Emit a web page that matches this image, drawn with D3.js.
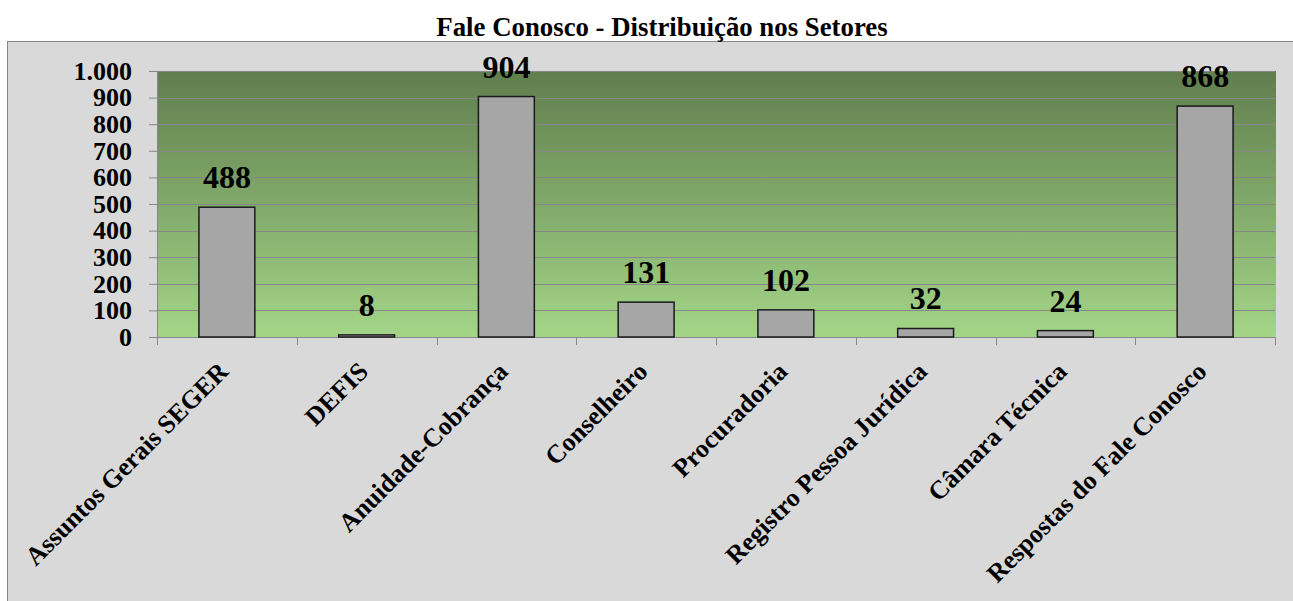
<html lang="pt">
<head>
  <meta charset="UTF-8"/>
  <title>Fale Conosco - Distribuição nos Setores</title>
  <script src="https://d3js.org/d3.v7.min.js"></script>
  <style>
    body { margin: 0; background: #fff; }
    svg { display: block; }
    text { font-family: 'Liberation Serif', 'Times New Roman', serif; font-weight: bold; fill: #000; }
  </style>
</head>
<body>
<svg width="1293" height="601"></svg>
<script>
  const setores = ['Assuntos Gerais SEGER', 'DEFIS', 'Anuidade-Cobrança', 'Conselheiro',
    'Procuradoria', 'Registro Pessoa Jurídica', 'Câmara Técnica', 'Respostas do Fale Conosco'];
  const valores = [488, 8, 904, 131, 102, 32, 24, 868];
  const yTicks = [0, 100, 200, 300, 400, 500, 600, 700, 800, 900, 1000];

  const svg = d3.select('svg');

  // plot area
  const plotLeft = 157, plotRight = 1275, plotTop = 71, plotBottom = 337;

  // outer chart area
  svg.append('rect')
    .attr('x', 7.5).attr('y', 41.5)
    .attr('width', 1300).attr('height', 600)
    .attr('fill', '#d9d9d9')
    .attr('stroke', '#878787')
    .attr('stroke-width', 1);

  svg.append('text')
    .attr('x', 662)
    .attr('y', 36)
    .attr('text-anchor', 'middle')
    .style('font-size', '26.8px')
    .text('Fale Conosco - Distribuição nos Setores');

  const defs = svg.append('defs');
  const grad = defs.append('linearGradient')
    .attr('id', 'bg').attr('x1', 0).attr('y1', 0).attr('x2', 0).attr('y2', 1);
  grad.append('stop').attr('offset', '0%').attr('stop-color', '#607e4e');
  grad.append('stop').attr('offset', '100%').attr('stop-color', '#a3d587');

  svg.append('rect')
    .attr('x', plotLeft).attr('y', plotTop)
    .attr('width', plotRight - plotLeft + 1).attr('height', plotBottom - plotTop)
    .attr('fill', 'url(#bg)');

  const x = d3.scaleBand()
    .domain(setores)
    .range([plotLeft, plotRight])
    .paddingInner(0.6)
    .paddingOuter(0.3);

  const y = d3.scaleLinear()
    .domain([0, 1000])
    .range([plotBottom, plotTop]);

  // grid lines
  svg.append('g')
    .selectAll('line')
    .data(yTicks.slice(1))
    .enter()
    .append('line')
    .attr('x1', plotLeft).attr('x2', plotRight)
    .attr('y1', (d) => Math.round(y(d)) + 0.5)
    .attr('y2', (d) => Math.round(y(d)) + 0.5)
    .attr('stroke', '#878787')
    .attr('stroke-width', 1);

  // y axis
  const yAxis = svg.append('g')
    .attr('transform', `translate(${plotLeft}, 0)`)
    .call(d3.axisLeft(y).tickValues(yTicks).tickSize(8).tickPadding(17)
      .tickFormat((d) => d3.format(',')(d).replace(/,/g, '.')));
  yAxis.select('.domain').attr('stroke', '#878787');
  yAxis.selectAll('.tick line').attr('stroke', '#878787');
  yAxis.selectAll('.tick text')
    .attr('fill', '#000')
    .style('font-size', '26px')
    .style('font-family', "'Liberation Serif', serif")
    .style('font-weight', 'bold');

  // x axis: ticks at category boundaries
  const step = x.step();
  const bounds = d3.range(setores.length + 1).map((i) => plotLeft + i * step);
  svg.append('line')
    .attr('x1', plotLeft).attr('x2', plotRight)
    .attr('y1', plotBottom + 0.5).attr('y2', plotBottom + 0.5)
    .attr('stroke', '#878787');
  svg.append('g')
    .selectAll('line')
    .data(bounds)
    .enter()
    .append('line')
    .attr('x1', (d) => Math.round(d) + 0.5)
    .attr('x2', (d) => Math.round(d) + 0.5)
    .attr('y1', plotBottom).attr('y2', plotBottom + 8)
    .attr('stroke', '#878787');

  const data = setores.map((s, i) => ({ setor: s, valor: valores[i] }));

  const bars = svg.selectAll('.barra')
    .data(data)
    .enter()
    .append('g')
    .attr('class', 'barra');

  bars.append('rect')
    .attr('x', (d) => x(d.setor))
    .attr('y', (d) => y(d.valor))
    .attr('width', x.bandwidth())
    .attr('height', (d) => plotBottom - y(d.valor))
    .attr('fill', '#a6a6a6')
    .attr('stroke', '#1a1a1a')
    .attr('stroke-width', 1.5);

  bars.append('text')
    .attr('x', (d) => x(d.setor) + x.bandwidth() / 2)
    .attr('y', (d) => y(d.valor) - 19)
    .attr('text-anchor', 'middle')
    .style('font-size', '32px')
    .text((d) => d.valor);

  // rotated category labels
  svg.append('g')
    .selectAll('text')
    .data(setores)
    .enter()
    .append('text')
    .attr('transform', (d) => `translate(${x(d) + x.bandwidth() / 2 + 3}, 373) rotate(-45)`)
    .attr('text-anchor', 'end')
    .style('font-size', '26px')
    .text((d) => d);
</script>
</body>
</html>
